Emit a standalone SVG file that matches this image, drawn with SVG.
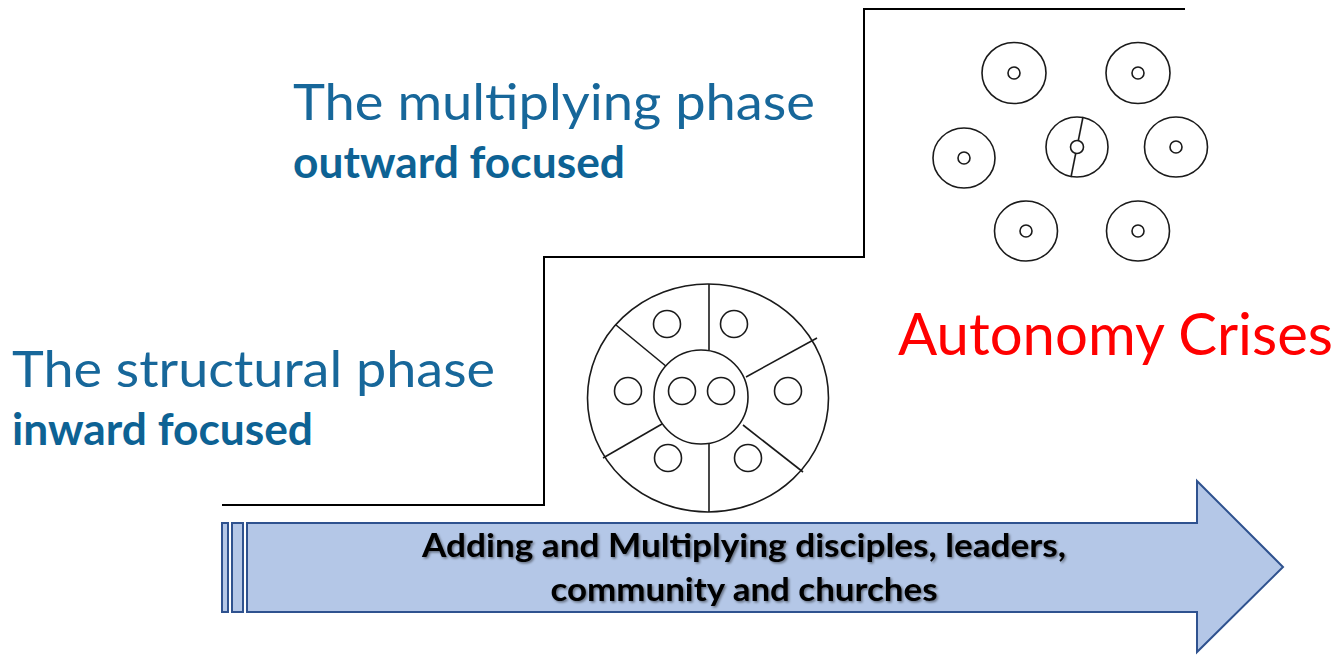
<svg xmlns="http://www.w3.org/2000/svg" width="1339" height="656" viewBox="0 0 1339 656">
<style>
.title{font-family:Lato,"Open Sans","Liberation Sans",sans-serif;fill:#17679A;font-size:51px}
.sub{font-family:Lato,"Open Sans","Liberation Sans",sans-serif;fill:#0D6294;font-size:44px;font-weight:bold}
.red{font-family:Lato,"Open Sans","Liberation Sans",sans-serif;fill:#FF0000;font-size:58px}
.arrtxt{font-family:Lato,"Open Sans","Liberation Sans",sans-serif;fill:#000;font-size:33px;font-weight:bold;text-anchor:middle}
.ln{fill:none;stroke:#1a1a1a;stroke-width:1.6}
.ci{fill:#fff;stroke:#1a1a1a;stroke-width:1.6}
.step{fill:none;stroke:#000;stroke-width:2}
.arrow{fill:#B4C7E7;stroke:#2F528F;stroke-width:2}
</style>
<defs>
<filter id="sh" x="-5%" y="-20%" width="110%" height="150%">
<feDropShadow dx="1.5" dy="1.5" stdDeviation="1" flood-color="#000" flood-opacity="0.45"/>
</filter>
</defs>
<rect width="1339" height="656" fill="#fff"/>

<g id="connectors">
<path class="step" d="M222,505 H544 V257 H864 V9 H1185"/>
</g>

<g id="arrow">
<rect class="arrow" x="222" y="523" width="6" height="89"/>
<rect class="arrow" x="232" y="523" width="11" height="89"/>
<path class="arrow" d="M247,523 H1197 V481 L1283,567 L1197,652 V612 H247 Z"/>
<g filter="url(#sh)">
<text class="arrtxt" x="744" y="557" textLength="644" lengthAdjust="spacingAndGlyphs">Adding and Multiplying disciples, leaders,</text>
<text class="arrtxt" x="744" y="601" textLength="387" lengthAdjust="spacingAndGlyphs">community and churches</text>
</g>
</g>

<g id="structural-label">
<text class="title" x="12" y="387" textLength="483" lengthAdjust="spacingAndGlyphs">The structural phase</text>
<text class="sub" x="12" y="445" textLength="301" lengthAdjust="spacingAndGlyphs">inward focused</text>
</g>

<g id="multiplying-label">
<text class="title" x="293" y="120" textLength="522" lengthAdjust="spacingAndGlyphs">The multiplying phase</text>
<text class="sub" x="293" y="178" textLength="332" lengthAdjust="spacingAndGlyphs">outward focused</text>
</g>

<g id="autonomy-crises">
<text class="red" x="898" y="355" textLength="435" lengthAdjust="spacingAndGlyphs">Autonomy Crises</text>
</g>

<g id="structural-diagram">
<ellipse class="ci" cx="708" cy="398" rx="120.5" ry="114"/>
<line class="ln" x1="709" y1="284" x2="709" y2="350"/>
<line class="ln" x1="709" y1="444" x2="709" y2="512"/>
<line class="ln" x1="616" y1="325" x2="667" y2="367"/>
<line class="ln" x1="746" y1="377" x2="817" y2="338"/>
<line class="ln" x1="662" y1="424" x2="603" y2="458"/>
<line class="ln" x1="743" y1="425" x2="803" y2="472"/>
<circle class="ci" cx="701" cy="397" r="47"/>
<circle class="ci" cx="667" cy="324" r="13.5"/>
<circle class="ci" cx="734" cy="324" r="13.5"/>
<circle class="ci" cx="628" cy="391" r="13.5"/>
<circle class="ci" cx="682" cy="391" r="13.5"/>
<circle class="ci" cx="721" cy="391" r="13.5"/>
<circle class="ci" cx="788" cy="391" r="13.5"/>
<circle class="ci" cx="668" cy="458" r="13.5"/>
<circle class="ci" cx="748" cy="458" r="13.5"/>
</g>

<g id="multiplying-diagram">
<ellipse class="ci" cx="1014" cy="73" rx="32" ry="30.5"/>
<circle class="ci" cx="1014" cy="73" r="6"/>
<ellipse class="ci" cx="1138" cy="73" rx="32" ry="30.5"/>
<circle class="ci" cx="1138" cy="73" r="6"/>
<ellipse class="ci" cx="964" cy="158" rx="31" ry="30"/>
<circle class="ci" cx="964" cy="158" r="6"/>
<ellipse class="ci" cx="1077" cy="147" rx="31" ry="30"/>
<line class="ln" x1="1083" y1="117" x2="1071" y2="177"/>
<circle class="ci" cx="1077" cy="147" r="6.5"/>
<ellipse class="ci" cx="1176" cy="147" rx="31.5" ry="30"/>
<circle class="ci" cx="1176" cy="147" r="6"/>
<ellipse class="ci" cx="1026" cy="231" rx="31.5" ry="30"/>
<circle class="ci" cx="1026" cy="231" r="6"/>
<ellipse class="ci" cx="1138" cy="231" rx="31.5" ry="30"/>
<circle class="ci" cx="1138" cy="231" r="6"/>
</g>
</svg>
